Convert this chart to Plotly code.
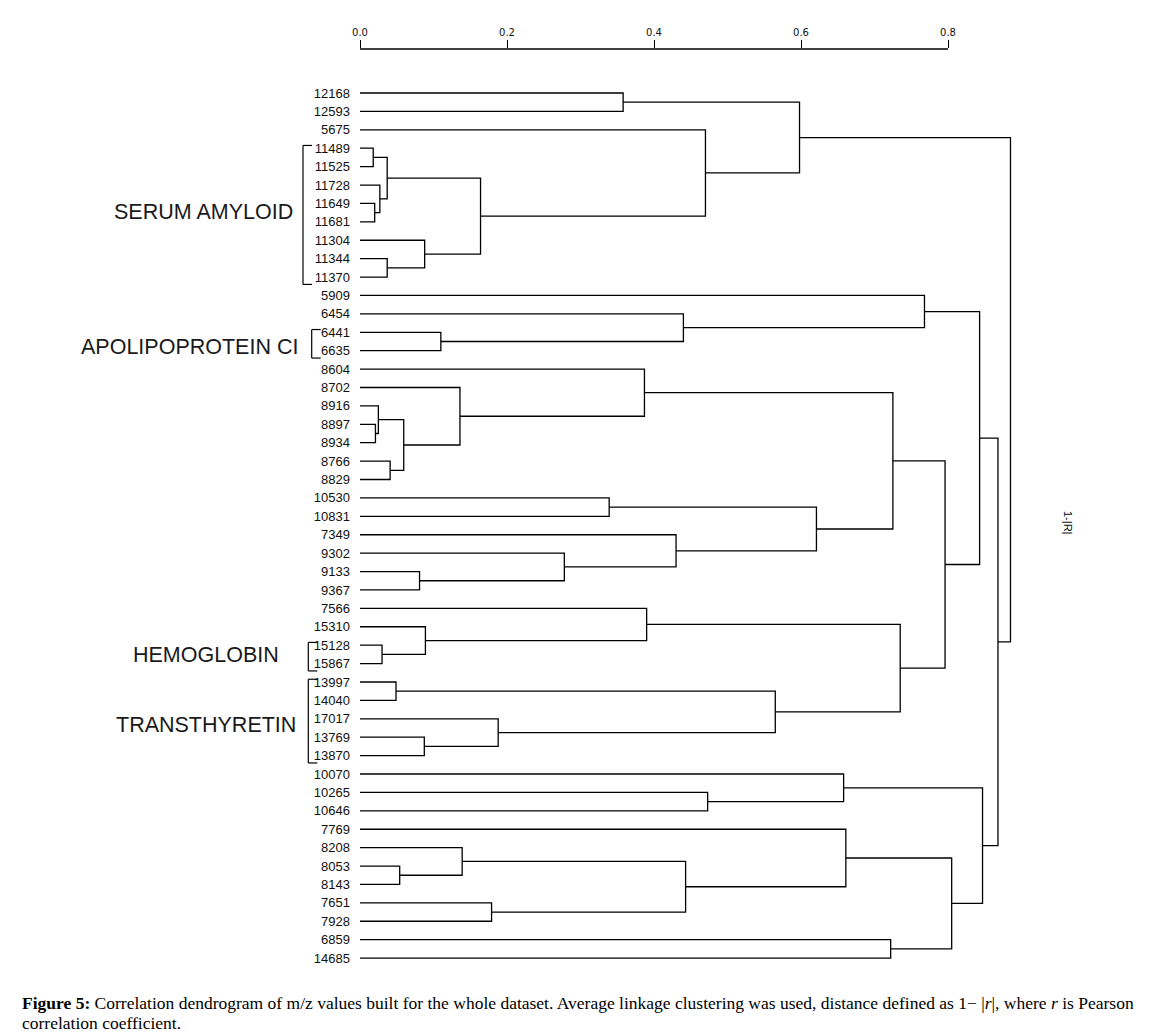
import plotly.graph_objects as go

# ---------------- data ----------------
leaves = ["12168", "12593", "5675", "11489", "11525", "11728", "11649", "11681",
          "11304", "11344", "11370", "5909", "6454", "6441", "6635", "8604",
          "8702", "8916", "8897", "8934", "8766", "8829", "10530", "10831",
          "7349", "9302", "9133", "9367", "7566", "15310", "15128", "15867",
          "13997", "14040", "17017", "13769", "13870", "10070", "10265", "10646",
          "7769", "8208", "8053", "8143", "7651", "7928", "6859", "14685"]

# merges (bottom-up): children are leaf labels or "n<k>" for earlier merges
merge_left = ["11489", "11649", "11728", "n0", "11344", "11304", "n3", "12168", "5675", "n7",
              "6441", "6454", "5909",
              "8897", "8916", "8766", "n14", "8702", "8604", "10530", "9133", "9302", "7349", "n19", "n18",
              "15128", "15310", "7566", "13997", "13769", "17017", "n28", "n27", "n24", "n12",
              "10265", "10070", "8053", "8208", "7651", "n38", "7769", "6859", "n41", "n36", "n34", "n9"]
merge_right = ["11525", "11681", "n1", "n2", "11370", "n4", "n5", "12593", "n6", "n8",
               "6635", "n10", "n11",
               "8934", "n13", "8829", "n15", "n16", "n17", "10831", "9367", "n20", "n21", "n22", "n23",
               "15867", "n25", "n26", "14040", "13870", "n29", "n30", "n31", "n32", "n33",
               "10646", "n35", "8143", "n37", "7928", "n39", "n40", "14685", "n42", "n43", "n44", "n45"]
merge_height = [0.018, 0.020, 0.027, 0.037, 0.037, 0.088, 0.164, 0.358, 0.470, 0.598,
                0.110, 0.440, 0.768,
                0.021, 0.025, 0.041, 0.0595, 0.136, 0.387, 0.339, 0.081, 0.278, 0.430, 0.621, 0.725,
                0.030, 0.089, 0.390, 0.049, 0.0875, 0.188, 0.565, 0.735, 0.796, 0.843,
                0.473, 0.658, 0.054, 0.139, 0.179, 0.443, 0.661, 0.722, 0.805, 0.847, 0.868, 0.885]

x_tick_vals = [0.0, 0.2, 0.4, 0.6, 0.8]
x_tick_text = ["0.0", "0.2", "0.4", "0.6", "0.8"]

group_names = ["SERUM AMYLOID", "APOLIPOPROTEIN CI", "HEMOGLOBIN", "TRANSTHYRETIN"]
group_first = ["11489", "6441", "15128", "13997"]
group_last = ["11370", "6635", "15867", "13870"]

axis_title = "1-|R|"
caption_1 = ("<b>Figure 5:</b> Correlation dendrogram of m/z values built for the whole dataset. "
             "Average linkage clustering was used, distance defined as 1\u2212 |<i>r</i>|, where <i>r</i> is Pearson")
caption_2 = "correlation coefficient."

# ---------------- layout geometry (pixels) ----------------
OFF = 8                      # page body margin of the html page
W, H = 1174 - OFF, 1035 - OFF
ML, MR, MT, MB = 360 - OFF, 138, 49 - OFF, 60
PW, PH = W - ML - MR, H - MT - MB
XMAX = PW / 735.0
Y_TOP, Y_BOT = -2.391, 47.92


def px_x(p):
    # p: pixel in screenshot coordinates
    return (p - OFF - ML) / PW


def px_y(p):
    return (H - MB - (p - OFF)) / PH


# ---------------- build dendrogram segments ----------------
pos = {name: (0.0, float(i)) for i, name in enumerate(leaves)}
xs, ys = [], []
for k, (a, b, h) in enumerate(zip(merge_left, merge_right, merge_height)):
    xa, ya = pos[a]
    xb, yb = pos[b]
    xs += [xa, h, h, xb, None]
    ys += [ya, ya, yb, yb, None]
    pos["n%d" % k] = (h, (ya + yb) / 2.0)

fig = go.Figure()
fig.add_trace(go.Scatter(x=xs, y=ys, mode="lines",
                         line=dict(color="black", width=1.3),
                         hoverinfo="skip", showlegend=False))

shapes = [dict(type="line", xref="x", yref="paper", x0=0, x1=0.8, y0=1, y1=1,
               line=dict(color="black", width=1.3))]

# group brackets & labels
bracket_x = [303, 311.7, 308.3, 308.3]
label_right = [295, 300, 281, 298]
label_dy = [-0.15, 0.2, -0.1, 0.2]
annotations = []
for name, f, l, bx, lr, dy in zip(group_names, group_first, group_last, bracket_x, label_right, label_dy):
    i0 = leaves.index(f) - 0.15
    i1 = leaves.index(l) + 0.4
    x0 = px_x(bx)
    x1 = px_x(bx + 9)
    for seg in [(x0, i0, x0, i1), (x0, i0, x1, i0), (x0, i1, x1, i1)]:
        shapes.append(dict(type="line", xref="paper", yref="y",
                           x0=seg[0], y0=seg[1], x1=seg[2], y1=seg[3],
                           line=dict(color="black", width=1.2)))
    annotations.append(dict(text=name, xref="paper", yref="y", x=px_x(lr),
                            y=(i0 + i1) / 2 + dy, xanchor="right", yanchor="middle",
                            showarrow=False,
                            font=dict(family="Liberation Sans", size=21.5, color="#1a1a1a")))

annotations.append(dict(text=axis_title, xref="paper", yref="paper", x=px_x(1068), y=px_y(522),
                        textangle=90, showarrow=False, xanchor="center", yanchor="middle",
                        font=dict(family="Liberation Sans", size=11, color="#111")))
annotations.append(dict(text=caption_1, xref="paper", yref="paper", x=px_x(20), y=px_y(1003),
                        xanchor="left", yanchor="middle", showarrow=False, align="left",
                        font=dict(family="Liberation Serif", size=17.5, color="black")))
annotations.append(dict(text=caption_2, xref="paper", yref="paper", x=px_x(20), y=px_y(1023),
                        xanchor="left", yanchor="middle", showarrow=False, align="left",
                        font=dict(family="Liberation Serif", size=17.5, color="black")))

fig.update_layout(
    width=W, height=H,
    margin=dict(l=ML, r=MR, t=MT, b=MB, pad=0),
    paper_bgcolor="white", plot_bgcolor="white",
    shapes=shapes, annotations=annotations,
    xaxis=dict(side="top", range=[0, XMAX], tickvals=x_tick_vals, ticktext=x_tick_text,
               ticks="outside", ticklen=8, tickwidth=1.3, tickcolor="black",
               showline=False, showgrid=False, zeroline=False,
               tickfont=dict(family="DejaVu Sans", size=10, color="#111"),
               ticklabelstandoff=0),
    yaxis=dict(range=[Y_BOT, Y_TOP], tickvals=list(range(len(leaves))), ticktext=leaves,
               ticks="", showline=False, showgrid=False, zeroline=False,
               tickfont=dict(family="Liberation Sans", size=13, color="#111"),
               ticklabelstandoff=9),
)

fig.write_html("out.html")
